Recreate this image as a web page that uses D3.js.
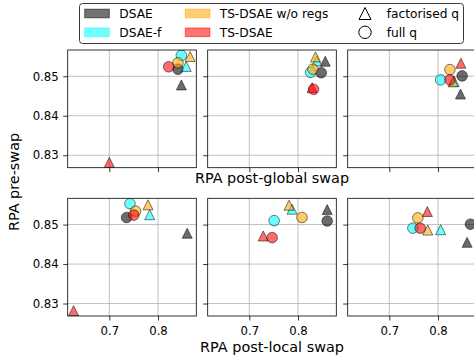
<!DOCTYPE html>
<html>
<head>
<meta charset="utf-8">
<script src="https://cdn.jsdelivr.net/npm/d3@7"></script>
<style>
body { margin: 0; background: #fff; }
svg { display: block; font-family: "DejaVu Sans", sans-serif; }
</style>
</head>
<body>
<div id="chart"></div>
<script>
// models and q types (each point = one model x one q type)
const models = ["DSAE", "DSAE-f", "TS-DSAE w/o regs", "TS-DSAE"];
const qTypes = ["factorised q", "full q"];
// point order: DSAE tri, DSAE circ, DSAE-f tri, DSAE-f circ, w/o regs tri, w/o regs circ, TS-DSAE tri, TS-DSAE circ
const pointModel = [0, 0, 1, 1, 2, 2, 3, 3];
const pointQ = [0, 1, 0, 1, 0, 1, 0, 1];

// column A
const preSwapA = [0.8478, 0.8518, 0.8525, 0.8553, 0.8550, 0.8534, 0.8282, 0.8524];
const globalA = [0.848, 0.841, 0.858, 0.848, 0.866, 0.841, 0.700, 0.822];
const localA = [0.860, 0.7355, 0.783, 0.7424, 0.7796, 0.754, 0.6265, 0.7504];
// column B
const preSwapB = [0.8538, 0.8509, 0.8539, 0.8510, 0.8549, 0.8518, 0.8471, 0.8467];
const globalB = [0.856, 0.8477, 0.8388, 0.8259, 0.836, 0.8306, 0.829, 0.832];
const localB = [0.860, 0.860, 0.7878, 0.751, 0.7816, 0.8082, 0.7286, 0.7469];
// column C
const preSwapC = [0.8455, 0.8501, 0.8487, 0.8491, 0.8486, 0.8517, 0.8533, 0.8491];
const globalC = [0.8463, 0.8496, 0.8333, 0.8055, 0.831, 0.8245, 0.847, 0.8245];
const localC = [0.8598, 0.8667, 0.8055, 0.7484, 0.779, 0.7586, 0.7782, 0.7633];

const xTicks = [0.7, 0.8];
const yTicks = [0.83, 0.84, 0.85];
const xLabels = ["RPA post-global swap", "RPA post-local swap"];
const yLabel = "RPA pre-swap";

const colors = ["#000000", "#00ffff", "#ffa500", "#ff0000"];

const width = 474, height = 362;
const panelLeft = [67.7, 207.7, 347.7], panelW = 128.6;
const rowTop = [50, 198.3], panelH = 117.7;

const svg = d3.select("#chart").append("svg")
    .attr("width", width)
    .attr("height", height);

const preSwap = [preSwapA, preSwapB, preSwapC];
const postX = [[globalA, globalB, globalC], [localA, localB, localC]];

// shared limits, matplotlib style 5% margins
const allX = [].concat(globalA, globalB, globalC, localA, localB, localC);
const allY = [].concat(preSwapA, preSwapB, preSwapC);
function padded(vals) {
    const e = d3.extent(vals), m = (e[1] - e[0]) * 0.05;
    return [e[0] - m, e[1] + m];
}
const x = d3.scaleLinear().domain(padded(allX)).range([0, panelW]);
const y = d3.scaleLinear().domain(padded(allY)).range([panelH, 0]);

const triPath = s => `M0,${-s / 2}L${s / 2},${s / 2}L${-s / 2},${s / 2}Z`;
const msize = 10;

const defs = svg.append("defs");
defs.append("clipPath").attr("id", "clip")
    .append("rect").attr("width", panelW).attr("height", panelH);

for (let r = 0; r < 2; r++) {
    for (let c = 0; c < 3; c++) {
        const g = svg.append("g")
            .attr("transform", `translate(${panelLeft[c]},${rowTop[r]})`);

        // grid
        g.append("g").selectAll("line").data(xTicks).enter().append("line")
            .attr("x1", d => x(d)).attr("x2", d => x(d))
            .attr("y1", 0).attr("y2", panelH)
            .attr("stroke", "#b0b0b0").attr("stroke-width", 0.8);
        g.append("g").selectAll("line").data(yTicks).enter().append("line")
            .attr("y1", d => y(d)).attr("y2", d => y(d))
            .attr("x1", 0).attr("x2", panelW)
            .attr("stroke", "#b0b0b0").attr("stroke-width", 0.8);

        const pts = pointModel.map((m, i) => ({
            m: m, q: pointQ[i], x: postX[r][c][i], y: preSwap[c][i]
        }));

        const pg = g.append("g").attr("clip-path", "url(#clip)");
        pg.selectAll("path").data(pts).enter().append("path")
            .attr("d", d => d.q === 0 ? triPath(msize) : d3.arc()({innerRadius: 0, outerRadius: msize / 2 + 0.3, startAngle: 0, endAngle: 2 * Math.PI}))
            .attr("transform", d => `translate(${x(d.x)},${y(d.y)})`)
            .attr("fill", d => colors[d.m])
            .attr("fill-opacity", 0.58)
            .attr("stroke", "#000")
            .attr("stroke-opacity", 0.5)
            .attr("stroke-width", 1);

        // axes
        const xAxis = g.append("g")
            .attr("transform", `translate(0,${panelH})`)
            .call(d3.axisBottom(x).tickValues(xTicks).tickSize(4.5).tickPadding(6)
                .tickFormat(r === 1 ? d3.format(".1f") : () => ""));
        const yAxis = g.append("g")
            .call(d3.axisLeft(y).tickValues(yTicks).tickSize(4.5).tickPadding(4.5)
                .tickFormat(c === 0 ? d3.format(".2f") : () => ""));
        [xAxis, yAxis].forEach(a => {
            a.select(".domain").remove();
            a.selectAll("line").attr("stroke", "#000").attr("stroke-width", 0.8);
            a.selectAll("text").attr("font-size", 11.7).attr("fill", "#000")
                .attr("font-family", "DejaVu Sans");
        });

        g.append("rect")
            .attr("width", panelW).attr("height", panelH)
            .attr("fill", "none").attr("stroke", "#000").attr("stroke-width", 0.8);
    }
}

// axis labels
svg.append("text")
    .attr("x", panelLeft[1] + panelW / 2).attr("y", 183)
    .attr("text-anchor", "middle").attr("font-size", 14.4)
    .text(xLabels[0]);
svg.append("text")
    .attr("x", panelLeft[1] + panelW / 2).attr("y", 352)
    .attr("text-anchor", "middle").attr("font-size", 14.4)
    .text(xLabels[1]);
svg.append("text")
    .attr("transform", "translate(18.5,182) rotate(-90)")
    .attr("text-anchor", "middle").attr("font-size", 14.4)
    .text(yLabel);

// legend
const lg = svg.append("g");
lg.append("rect")
    .attr("x", 79.5).attr("y", 3.5).attr("width", 384).attr("height", 40)
    .attr("rx", 3).attr("fill", "#fff").attr("stroke", "#3a3a3a").attr("stroke-width", 1);

const rowY = [13.5, 32.3];
const patchX = [84.7, 185.3];
const textX = [119.3, 219.7];
models.forEach((name, i) => {
    const col = Math.floor(i / 2), row = i % 2;
    lg.append("rect")
        .attr("x", patchX[col]).attr("y", rowY[row] - 4.3)
        .attr("width", 24.6).attr("height", 8.6)
        .attr("fill", colors[i]).attr("fill-opacity", 0.55)
        .attr("stroke", colors[i]).attr("stroke-opacity", 0.55).attr("stroke-width", 1);
    lg.append("text")
        .attr("x", textX[col]).attr("y", rowY[row]).attr("dy", "0.36em")
        .attr("font-size", 12.2).text(name);
});
qTypes.forEach((name, i) => {
    lg.append("path")
        .attr("d", i === 0 ? triPath(12) : d3.arc()({innerRadius: 0, outerRadius: 6.2, startAngle: 0, endAngle: 2 * Math.PI}))
        .attr("transform", `translate(365,${rowY[i]})`)
        .attr("fill", "#fff").attr("stroke", "#000").attr("stroke-width", 1);
    lg.append("text")
        .attr("x", 386.7).attr("y", rowY[i]).attr("dy", "0.36em")
        .attr("font-size", 12.2).text(name);
});
</script>
</body>
</html>
